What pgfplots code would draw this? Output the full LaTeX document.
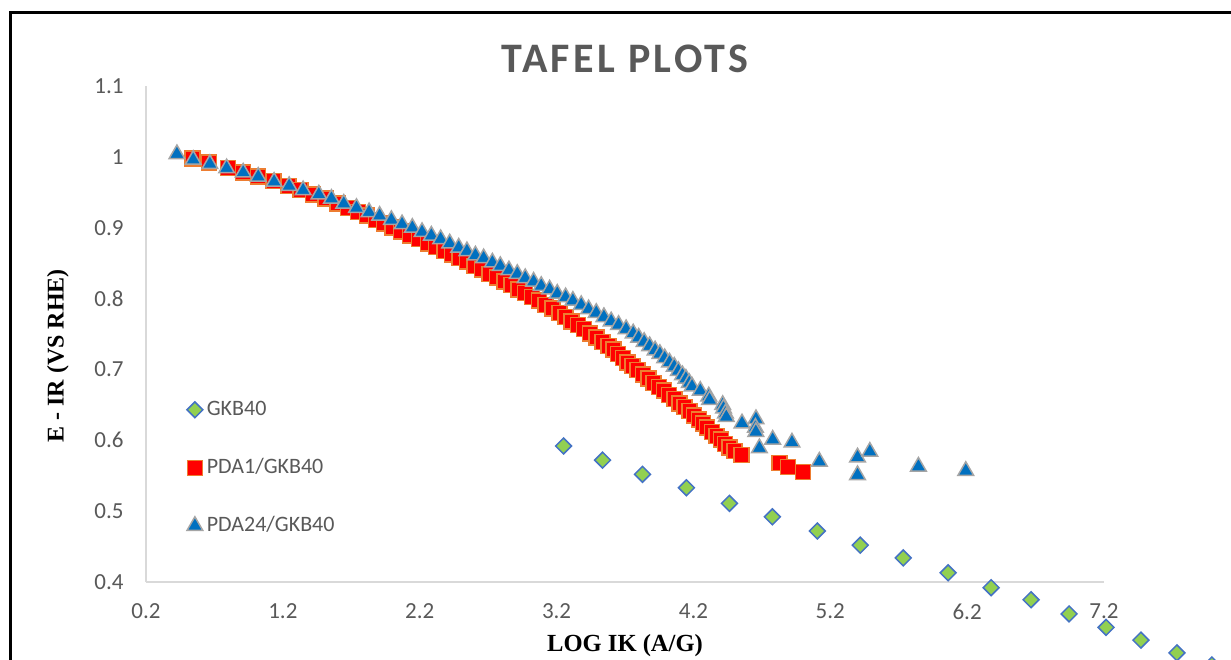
\documentclass[border=0pt]{standalone}
\usepackage{pgfplots}
\pgfplotsset{compat=1.18}
\usepackage{fontspec}
\newfontfamily\calibri{Carlito}
\newfontfamily\timesf{Liberation Serif}
\definecolor{gkfill}{HTML}{92D050}
\definecolor{gkedge}{HTML}{4472C4}
\definecolor{pdfill}{HTML}{FF0000}
\definecolor{pdedge}{HTML}{ED7D31}
\definecolor{trfill}{HTML}{0070C0}
\definecolor{tredge}{HTML}{A5A5A5}
\definecolor{txt}{HTML}{595959}
\definecolor{axisgray}{HTML}{D9D9D9}
\begin{document}
\begin{tikzpicture}[x=1pt,y=1pt]
\useasboundingbox (0,0) rectangle (1231,-659);
\clip (0,0) rectangle (1231,-659);
\fill[white] (0,0) rectangle (1231,-659);
\draw[line width=3pt] (10,-662) -- (10,-12.8) -- (1235,-12.8);
\begin{axis}[
  at={(146pt,-582pt)}, anchor=south west,
  scale only axis, width=958pt, height=496pt,
  xmin=0.2, xmax=7.2, ymin=0.4, ymax=1.1,
  clip=false,
  axis x line=bottom, axis y line=left,
  axis line style={draw=axisgray, line width=2pt, -},
  xtick={0.2,1.2,2.2,3.2,4.2,5.2,6.2,7.2},
  xticklabels={0.2,1.2,2.2,3.2,4.2,5.2,6.2,7.2},
  ytick={0.4,0.5,0.6,0.7,0.8,0.9,1,1.1},
  yticklabels={0.4,0.5,0.6,0.7,0.8,0.9,1,1.1},
  major tick length=0pt,
  tick style={draw=none},
  ticklabel style={font=\calibri\fontsize{23}{26}\selectfont, text=txt},
  xticklabel style={yshift=-18pt},
  yticklabel style={xshift=-19pt},
  title={TAFEL PLOTS},
  title style={at={(axis description cs:0.5,1.043)}, anchor=center,
    font=\calibri\bfseries\fontsize{42}{48}\selectfont\addfontfeatures{LetterSpace=8}, text=txt},
  xlabel={LOG IK (A/G)},
  xlabel style={at={(axis description cs:0.5,-0.129)}, anchor=center,
    font=\timesf\bfseries\fontsize{24.6}{28}\selectfont, text=black},
  ylabel={E - IR (VS RHE)},
  ylabel style={at={(axis description cs:-0.092,0.456)}, anchor=center, rotate=0,
    font=\timesf\bfseries\fontsize{24}{28}\selectfont, text=black},
  legend style={at={(axis cs:0.476,0.661)}, anchor=north west, draw=none, fill=none,
    font=\calibri\fontsize{22}{26}\selectfont, text=txt, row sep=37pt,
    nodes={inner sep=1pt, text height=15pt, text depth=4pt},
    /tikz/every odd column/.append style={column sep=3pt}},
  legend cell align=left,
]
\addplot[only marks, mark=square*, mark size=5.6pt,
  mark options={rotate=45, fill=gkfill, draw=gkedge, line width=1.5pt}]
  coordinates {
(3.251,0.592) (3.536,0.572) (3.828,0.552) (4.149,0.533) (4.463,0.511)
(4.777,0.492) (5.105,0.472) (5.419,0.452) (5.733,0.434) (6.061,0.413)
(6.375,0.392) (6.667,0.375) (6.945,0.355) (7.215,0.336) (7.470,0.318)
(7.733,0.300) (7.988,0.283)
};
\addlegendentry{GKB40}
\addplot[only marks, mark=square*, mark size=7.5pt,
  mark options={fill=pdfill, draw=pdedge, line width=1.5pt}]
  coordinates {
(0.54,0.998) (0.66,0.992) (0.80,0.984) (0.91,0.978) (1.02,0.972)
(1.13,0.966) (1.24,0.959) (1.33,0.953) (1.42,0.947) (1.51,0.941)
(1.60,0.934) (1.675,0.928) (1.75,0.922) (1.815,0.917) (1.88,0.911)
(1.94,0.906) (2.00,0.900) (2.065,0.895) (2.13,0.889) (2.195,0.884)
(2.26,0.878) (2.32,0.873) (2.38,0.867) (2.435,0.862) (2.49,0.857)
(2.545,0.852) (2.60,0.846) (2.655,0.841) (2.71,0.835) (2.765,0.830)
(2.82,0.824) (2.87,0.819) (2.92,0.813) (2.97,0.808) (3.02,0.802)
(3.07,0.797) (3.12,0.791) (3.17,0.786) (3.22,0.780) (3.265,0.774)
(3.31,0.768) (3.355,0.763) (3.40,0.757) (3.445,0.751) (3.49,0.745)
(3.535,0.739) (3.58,0.733) (3.615,0.728) (3.65,0.722) (3.685,0.716)
(3.72,0.710) (3.755,0.705) (3.79,0.699) (3.83,0.693) (3.87,0.687)
(3.91,0.681) (3.95,0.675) (3.985,0.670) (4.02,0.664) (4.06,0.658)
(4.10,0.652) (4.135,0.647) (4.17,0.641) (4.205,0.635) (4.24,0.629)
(4.27,0.624) (4.30,0.618) (4.335,0.612) (4.37,0.606) (4.40,0.601)
(4.43,0.595) (4.465,0.590) (4.50,0.585) (4.55,0.579) (4.83,0.568)
(4.89,0.562) (5.00,0.555)
};
\addlegendentry{PDA1/GKB40}
\addplot[only marks, mark=triangle*, mark size=9pt,
  mark options={fill=trfill, draw=tredge, line width=1.5pt}]
  coordinates {
(0.426,1.004) (0.545,0.996) (0.667,0.990) (0.789,0.984) (0.910,0.978)
(1.020,0.972) (1.136,0.965) (1.246,0.959) (1.348,0.953) (1.463,0.947)
(1.555,0.941) (1.645,0.934) (1.738,0.928) (1.830,0.922) (1.907,0.917)
(1.993,0.911) (2.071,0.905) (2.146,0.900) (2.217,0.894) (2.285,0.889)
(2.353,0.884) (2.419,0.878) (2.485,0.872) (2.545,0.867) (2.607,0.861)
(2.667,0.857) (2.731,0.851) (2.789,0.846) (2.852,0.840) (2.913,0.835)
(2.971,0.829) (3.032,0.824) (3.088,0.818) (3.149,0.813) (3.205,0.807)
(3.266,0.802) (3.319,0.797) (3.380,0.791) (3.434,0.785) (3.490,0.780)
(3.546,0.774) (3.599,0.768) (3.653,0.763) (3.708,0.757) (3.76,0.751)
(3.80,0.745) (3.84,0.739) (3.88,0.733) (3.92,0.727) (3.955,0.722)
(3.99,0.716) (4.025,0.710) (4.06,0.704) (4.09,0.698) (4.12,0.692)
(4.145,0.687) (4.17,0.681) (4.19,0.676) (4.25,0.670) (4.312,0.662)
(4.318,0.657) (4.414,0.650) (4.42,0.645) (4.434,0.638) (4.44,0.633)
(4.555,0.624) (4.657,0.630) (4.653,0.618) (4.656,0.612) (4.682,0.589)
(4.779,0.601) (4.920,0.597) (5.120,0.570) (5.399,0.576) (5.489,0.584)
(5.399,0.551) (5.844,0.563) (6.190,0.557)
};
\addlegendentry{PDA24/GKB40}
\end{axis}
\end{tikzpicture}
\end{document}
